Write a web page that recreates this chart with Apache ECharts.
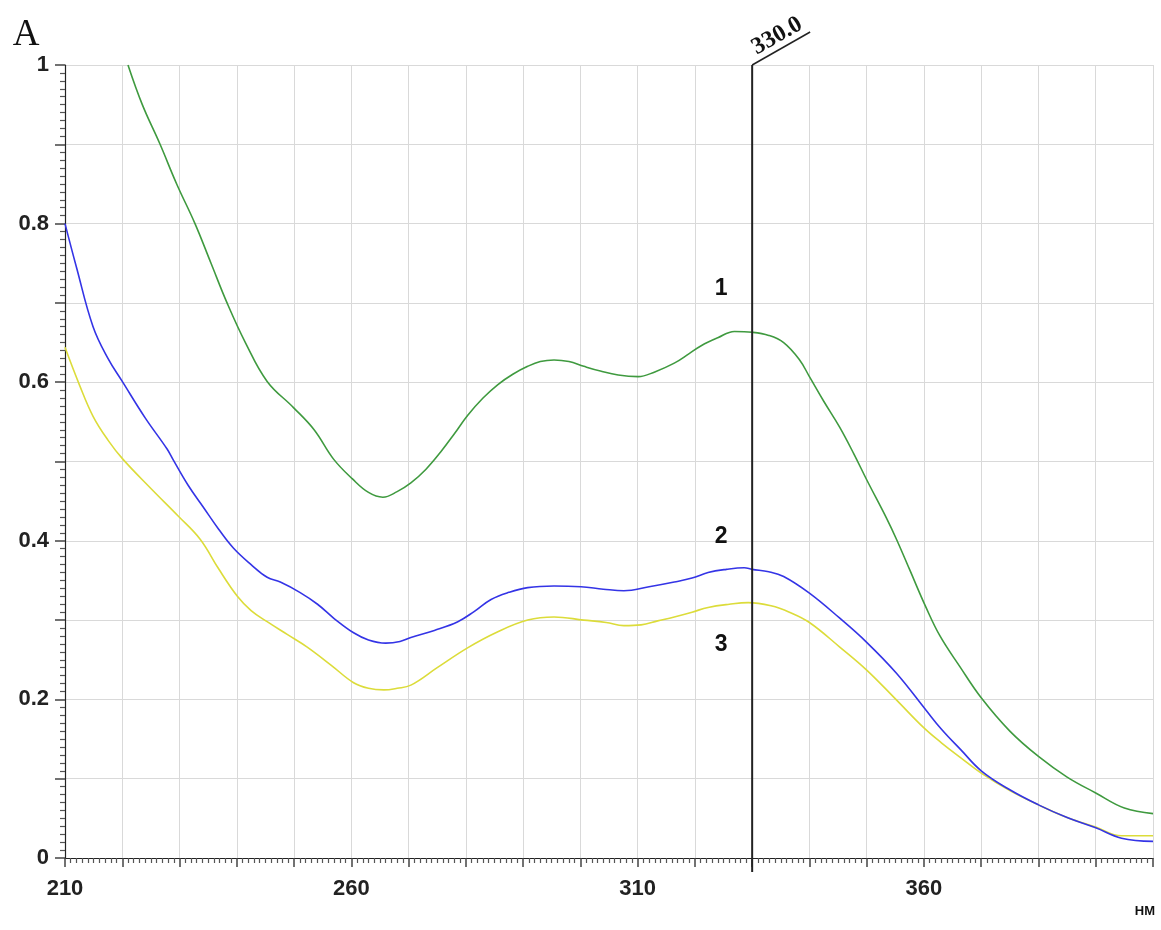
<!DOCTYPE html>
<html>
<head>
<meta charset="utf-8">
<script src="https://cdn.jsdelivr.net/npm/echarts@6/dist/echarts.min.js"></script>
<style>
  html, body { margin: 0; padding: 0; background: #fff; }
  #chart { width: 1161px; height: 930px; }
</style>
</head>
<body>
<div id="chart"></div>
<script>
// ---- Data ----
const panelLetter = 'A';
const xUnit = 'НМ';
const xLabelTicks = [210, 260, 310, 360];
const yLabelTicks = [0, 0.2, 0.4, 0.6, 0.8, 1];
const markerNm = 330;
const markerText = '330.0';

const curve1Nm  = [221.0,223.5,226.6,229.5,232.7,235.5,238.3,241.5,245.3,249.9,253.5,256.9,260.2,263.0,265.5,268.0,270.4,273.0,275.6,278.0,280.3,283.0,285.6,288.2,290.8,293.0,295.4,298.0,300.6,303.5,306.6,310.1,313.0,316.4,319.0,321.1,324.0,326.9,330.0,332.9,335.5,338.2,340.0,342.5,345.3,347.8,350.0,353.5,355.2,357.6,360.3,362.8,366.3,370.0,375.0,380.0,385.0,390.0,395.0,400.0];
const curve1Abs = [1.000,0.950,0.900,0.850,0.800,0.750,0.700,0.650,0.601,0.568,0.540,0.503,0.478,0.461,0.455,0.462,0.473,0.490,0.512,0.535,0.558,0.580,0.597,0.610,0.620,0.626,0.628,0.626,0.620,0.614,0.609,0.607,0.613,0.624,0.636,0.646,0.656,0.664,0.663,0.659,0.650,0.629,0.607,0.576,0.543,0.509,0.477,0.428,0.402,0.362,0.317,0.280,0.241,0.202,0.160,0.128,0.102,0.082,0.063,0.056];

const curve2Nm  = [210.0,212.0,214.9,217.5,220.0,224.0,227.8,228.9,231.5,234.1,236.8,239.4,242.5,245.3,247.6,251.0,254.1,257.0,260.4,263.0,266.0,268.5,270.4,274.5,278.6,281.5,284.4,287.5,290.8,295.4,300.1,304.0,307.6,312.0,316.4,319.5,322.3,325.5,328.6,330.0,332.9,335.5,340.0,345.2,350.0,355.2,360.3,363.1,366.5,370.0,375.0,380.0,385.0,390.0,394.5,400.0];
const curve2Abs = [0.800,0.745,0.670,0.630,0.601,0.555,0.516,0.502,0.470,0.443,0.415,0.391,0.370,0.354,0.348,0.335,0.320,0.302,0.284,0.275,0.271,0.273,0.278,0.287,0.298,0.311,0.326,0.335,0.341,0.343,0.342,0.339,0.337,0.342,0.348,0.353,0.360,0.364,0.366,0.364,0.361,0.355,0.334,0.303,0.272,0.233,0.187,0.162,0.136,0.110,0.086,0.067,0.051,0.038,0.025,0.021];

const curve3Nm  = [210.0,212.5,214.9,217.5,220.1,225.0,229.8,233.6,236.8,240.1,242.5,245.3,248.8,252.3,256.5,260.4,263.0,265.7,268.0,270.4,275.0,280.3,285.5,290.8,295.4,300.6,304.5,307.6,310.6,313.5,316.4,319.5,322.3,326.0,329.3,333.3,336.5,340.0,345.3,350.0,355.1,360.0,363.1,366.5,370.0,375.0,380.0,385.0,390.0,394.5,400.0];
const curve3Abs = [0.644,0.597,0.557,0.527,0.503,0.466,0.431,0.402,0.365,0.330,0.312,0.298,0.282,0.266,0.243,0.221,0.214,0.212,0.214,0.218,0.240,0.265,0.285,0.300,0.304,0.300,0.297,0.293,0.294,0.299,0.304,0.310,0.316,0.320,0.322,0.318,0.310,0.297,0.266,0.237,0.200,0.164,0.145,0.126,0.107,0.085,0.067,0.051,0.039,0.028,0.028];

const curveLabels   = ['1', '2', '3'];
const curveLabelNm  = [324.6, 324.6, 324.6];
const curveLabelAbs = [0.718, 0.405, 0.269];

(function () {
  function pairs(xs, ys) { return xs.map((x, i) => [x, ys[i]]); }

  const chart = echarts.init(document.getElementById('chart'), null, { renderer: 'canvas' });

  const axisFont = { fontFamily: 'Liberation Sans, Arial, sans-serif', fontWeight: 'bold', fontSize: 22, color: '#222' };

  const option = {
    backgroundColor: '#fff',
    animation: false,
    grid: { left: 65, right: 8, top: 65, bottom: 72, containLabel: false },
    xAxis: {
      type: 'value', min: 210, max: 400, interval: 10,
      axisLine: { show: true, onZero: false, lineStyle: { color: '#222', width: 1.2 } },
      axisTick: { show: true, inside: false, length: 9, lineStyle: { color: '#444', width: 1.5 } },
      minorTick: { show: true, splitNumber: 10, length: 5, lineStyle: { color: '#555', width: 1.2 } },
      splitLine: { show: true, lineStyle: { color: '#d9d9d9', width: 1 } },
      axisLabel: Object.assign({}, axisFont, {
        margin: 20,
        formatter: v => (xLabelTicks.indexOf(Math.round(v)) >= 0 ? String(Math.round(v)) : '')
      })
    },
    yAxis: {
      type: 'value', min: 0, max: 1, interval: 0.1,
      axisLine: { show: true, onZero: false, lineStyle: { color: '#222', width: 1.2 } },
      axisTick: { show: true, inside: false, length: 10, lineStyle: { color: '#444', width: 1.5 } },
      minorTick: { show: true, splitNumber: 10, length: 5, lineStyle: { color: '#555', width: 1.2 } },
      splitLine: { show: true, lineStyle: { color: '#d9d9d9', width: 1 } },
      axisLabel: Object.assign({}, axisFont, {
        margin: 16,
        formatter: v => {
          const r = Math.round(v * 10) / 10;
          return yLabelTicks.some(t => Math.abs(t - r) < 1e-6) ? String(r) : '';
        }
      })
    },
    series: [
      { type: 'line', name: '1', data: pairs(curve1Nm, curve1Abs), showSymbol: false, smooth: 0.4, clip: true,
        lineStyle: { color: '#3f9a3f', width: 1.6 }, z: 3 },
      { type: 'line', name: '2', data: pairs(curve2Nm, curve2Abs), showSymbol: false, smooth: 0.4, clip: true,
        lineStyle: { color: '#3434e6', width: 1.6 }, z: 4 },
      { type: 'line', name: '3', data: pairs(curve3Nm, curve3Abs), showSymbol: false, smooth: 0.4, clip: true,
        lineStyle: { color: '#dcdc3a', width: 1.6 }, z: 2 }
    ]
  };
  chart.setOption(option);

  // ---- Annotations placed through the chart's own scales ----
  const mTop = chart.convertToPixel({ gridIndex: 0 }, [markerNm, 1]);
  const mBot = chart.convertToPixel({ gridIndex: 0 }, [markerNm, 0]);
  const xEnd = chart.convertToPixel({ gridIndex: 0 }, [400, 0]);
  const cornerTL = chart.convertToPixel({ gridIndex: 0 }, [210, 1]);

  const graphics = [
    { type: 'line', z: 10, shape: { x1: mTop[0], y1: mTop[1], x2: mBot[0], y2: mBot[1] + 14 },
      style: { stroke: '#222', lineWidth: 2 } },
    { type: 'line', z: 10, shape: { x1: mTop[0], y1: mTop[1], x2: mTop[0] + 58, y2: mTop[1] - 33 },
      style: { stroke: '#222', lineWidth: 1.5 } },
    { type: 'text', z: 10, x: mTop[0] + 25, y: mTop[1] - 29, rotation: 0.52,
      style: { text: markerText, font: 'bold 24px "Liberation Serif", "Times New Roman", serif',
               fill: '#111', align: 'center', verticalAlign: 'middle' } },
    { type: 'text', z: 10, x: cornerTL[0] - 39, y: cornerTL[1] - 30,
      style: { text: panelLetter, font: '37px "Liberation Serif", "Times New Roman", serif',
               fill: '#111', align: 'center', verticalAlign: 'middle' } },
    { type: 'text', z: 10, x: xEnd[0] + 2, y: xEnd[1] + 53,
      style: { text: xUnit, font: 'bold 13px "Liberation Sans", Arial, sans-serif',
               fill: '#111', align: 'right', verticalAlign: 'middle' } }
  ];
  curveLabels.forEach((t, i) => {
    const p = chart.convertToPixel({ gridIndex: 0 }, [curveLabelNm[i], curveLabelAbs[i]]);
    graphics.push({ type: 'text', z: 10, x: p[0], y: p[1],
      style: { text: t, font: 'bold 23px "Liberation Sans", Arial, sans-serif',
               fill: '#111', align: 'center', verticalAlign: 'middle' } });
  });
  chart.setOption({ graphic: graphics });
})();
</script>
</body>
</html>
